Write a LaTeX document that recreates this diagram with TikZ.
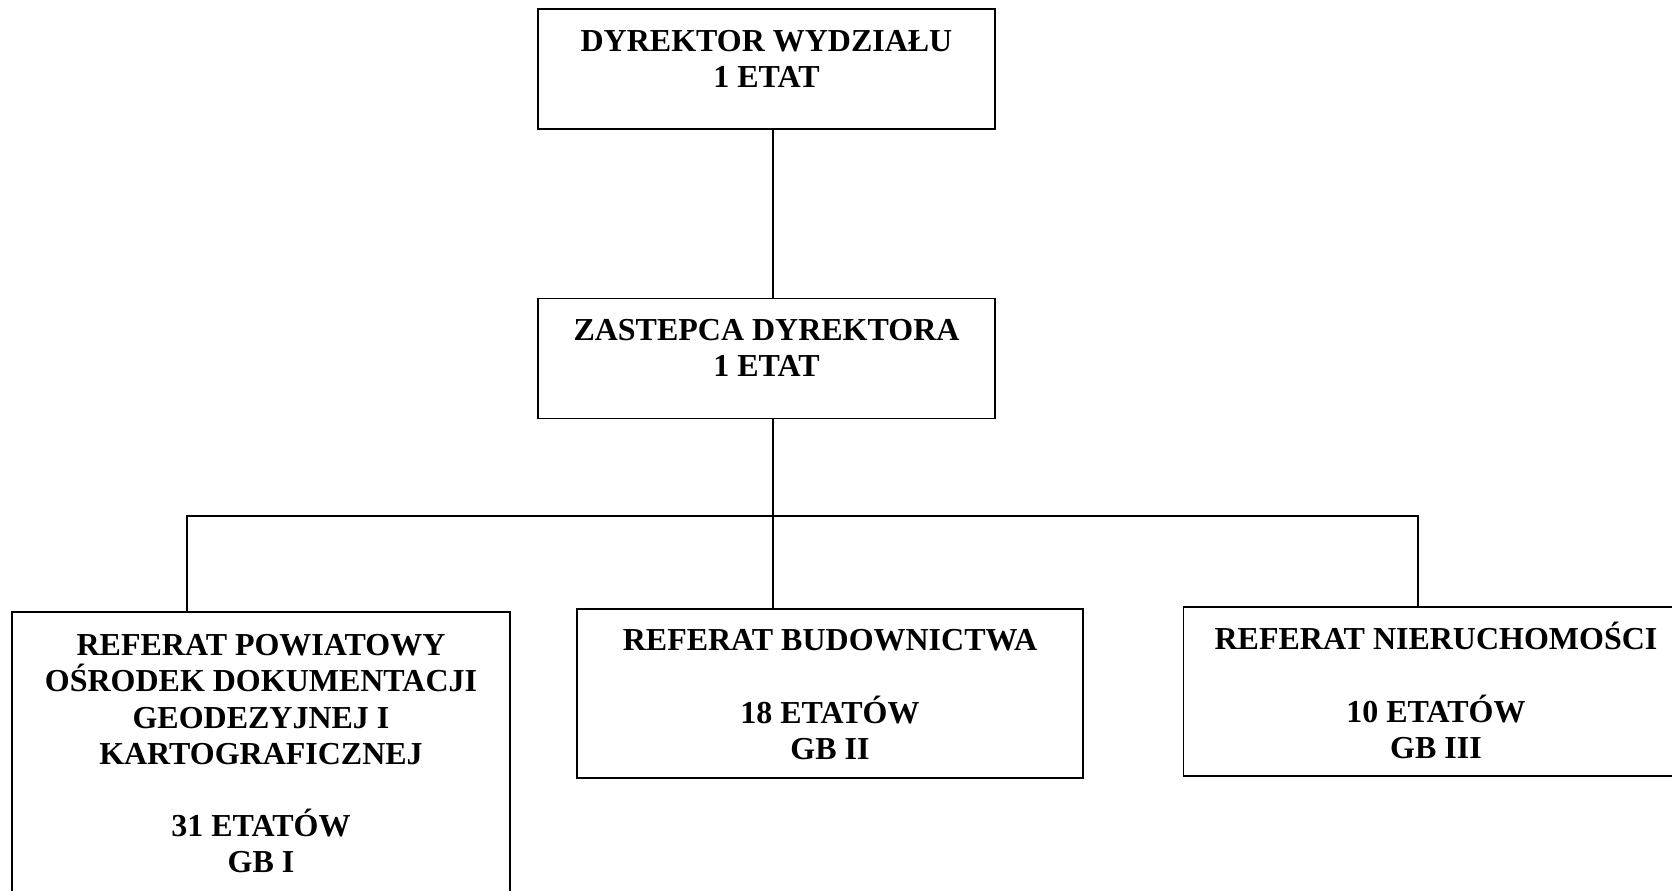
\documentclass[tikz,border=0pt]{standalone}
\usepackage{fontspec}
\setmainfont{Liberation Serif}
\usetikzlibrary{positioning}

\begin{document}
\begin{tikzpicture}[box/.style = {draw, line width = 0.7pt, inner sep = 0},
        napis/.style = {align = center, inner sep = 0, font = \fontsize{18.2}{20.6}\selectfont\bfseries},
        linia/.style = {line width = 0.7pt}]

        \clip (0, 0) rectangle (33.44, -17.8);

        \node[box, minimum width = 9.14cm, minimum height = 2.40cm] (dyr) at (15.33, -1.38) {};
        \node[box, minimum width = 9.14cm, minimum height = 2.41cm] (zast) at (15.33, -7.17) {};

        \node[box, minimum width = 9.96cm, minimum height = 5.96cm] (pod) at (5.22, -15.22) {};
        \node[box, minimum width = 10.12cm, minimum height = 3.38cm] (bud) at (16.6, -13.87) {};
        \node[box, minimum width = 10.11cm, minimum height = 3.38cm] (nier) at (28.72, -13.83) {};

        \node[napis, below = 7.5pt of dyr.north] (dyrT) {\rule{0pt}{17pt}DYREKTOR WYDZIAŁU\\1 ETAT};
        \node[napis, below = 7.3pt of zast.north] (zastT) {\rule{0pt}{17pt}ZASTEPCA DYREKTORA\\1 ETAT};

        \node[napis, below = 8pt of pod.north] (podT) {\rule{0pt}{17pt}REFERAT POWIATOWY\\OŚRODEK DOKUMENTACJI\\GEODEZYJNEJ I\\KARTOGRAFICZNEJ\\[20.6pt]31 ETATÓW\\GB I};
        \node[napis, below = 6.9pt of bud.north] (budT) {\rule{0pt}{17pt}REFERAT BUDOWNICTWA\\[20.6pt]18 ETATÓW\\GB II};
        \node[napis, below = 7.5pt of nier.north] (nierT) {\rule{0pt}{17pt}REFERAT NIERUCHOMOŚCI\\[20.6pt]10 ETATÓW\\GB III};

        \coordinate (busL) at (3.74, -10.32);
        \coordinate (busM) at (15.46, -10.32);
        \coordinate (busR) at (28.36, -10.32);

        \draw[linia] (dyr.south -| busM) -- (zast.north -| busM);
        \draw[linia] (zast.south -| busM) -- (bud.north -| busM);
        \draw[linia] (pod.north -| busL) -- (busL) -- (busR) -- (nier.north -| busR);

    \end{tikzpicture}
\end{document}
